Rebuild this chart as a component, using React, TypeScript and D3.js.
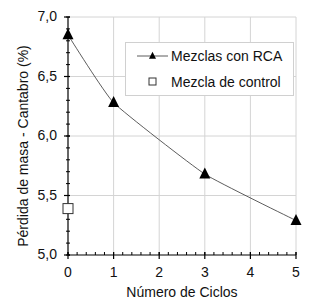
import React from "react";
import * as d3 from "d3";

const ciclos = [0, 1, 3, 5];
const perdidaRCA = [6.85, 6.28, 5.68, 5.29];
const controlX = [0];
const perdidaControl = [5.39];
const xTicks = [0, 1, 2, 3, 4, 5];
const yTicks = [5.0, 5.5, 6.0, 6.5, 7.0];
const legendLabels = ["Mezclas con RCA", "Mezcla de control"];

const W = 323, H = 305;
const L = 68, R = 296, T = 17, B = 255;
const FONT = "Liberation Sans, Arial, sans-serif";

export default function App() {
  const x = d3.scaleLinear().domain([0, 5]).range([L, R]);
  const y = d3.scaleLinear().domain([5, 7]).range([B, T]);
  const line = d3
    .line<number>()
    .x((_, i) => x(ciclos[i]))
    .y((d) => y(d))
    .curve(d3.curveCardinal.tension(0.6));
  const xMinor = d3.range(0, 5.001, 0.2).map((v) => +v.toFixed(2));
  const yMinor = d3.range(5, 7.001, 0.1).map((v) => +v.toFixed(2));
  const tri = (cx: number, cy: number, s: number) =>
    `M${cx},${cy - s * 0.6}L${cx + s / 2},${cy + s * 0.4}L${cx - s / 2},${cy + s * 0.4}Z`;
  const fmt = (v: number) => v.toFixed(1).replace(".", ",");
  return (
    <svg width={W} height={H} style={{ position: "absolute", left: 0, top: 0, background: "#fff" }} fontFamily={FONT}>
      <rect width={W} height={H} fill="#fff" />
      {xTicks.slice(1).map((t) => (
        <line key={"gx" + t} x1={x(t)} x2={x(t)} y1={T} y2={B} stroke="#d4d4d4" strokeWidth={1} />
      ))}
      {yTicks.slice(1).map((t) => (
        <line key={"gy" + t} x1={L} x2={R} y1={y(t)} y2={y(t)} stroke="#d4d4d4" strokeWidth={1} />
      ))}
      {/* axes */}
      <line x1={L} x2={L} y1={T} y2={B} stroke="#000" strokeWidth={1.2} />
      <line x1={L} x2={R} y1={B} y2={B} stroke="#000" strokeWidth={1.2} />
      {yMinor.map((t) => (
        <line key={"ym" + t} x1={L - 2} x2={L + 2} y1={y(t)} y2={y(t)} stroke="#000" strokeWidth={1} />
      ))}
      {yTicks.map((t) => (
        <line key={"yt" + t} x1={L - 4} x2={L + 2} y1={y(t)} y2={y(t)} stroke="#000" strokeWidth={1.2} />
      ))}
      {xMinor.map((t) => (
        <line key={"xm" + t} x1={x(t)} x2={x(t)} y1={B - 3} y2={B} stroke="#000" strokeWidth={1} />
      ))}
      {xTicks.map((t) => (
        <line key={"xt" + t} x1={x(t)} x2={x(t)} y1={B - 3} y2={B + 4} stroke="#000" strokeWidth={1.2} />
      ))}
      {yTicks.map((t) => (
        <text key={"yl" + t} x={L - 11} y={y(t) + 4} textAnchor="end" fontSize={14} fill="#111">
          {fmt(t)}
        </text>
      ))}
      {xTicks.map((t) => (
        <text key={"xl" + t} x={x(t)} y={B + 22} textAnchor="middle" fontSize={14} fill="#111">
          {t}
        </text>
      ))}
      <text x={(L + R) / 2} y={297} textAnchor="middle" fontSize={14} fill="#111">
        Número de Ciclos
      </text>
      <text transform={`translate(28,${(T + B) / 2 + 10}) rotate(-90)`} textAnchor="middle" fontSize={14} fill="#111">
        Pérdida de masa - Cantabro (%)
      </text>
      {/* data */}
      <path d={line(perdidaRCA) || ""} fill="none" stroke="#333" strokeWidth={0.8} />
      {perdidaRCA.map((v, i) => (
        <path key={"p" + i} d={tri(x(ciclos[i]), y(v), 11)} fill="#000" />
      ))}
      {perdidaControl.map((v, i) => (
        <rect key={"c" + i} x={x(controlX[i]) - 5} y={y(v) - 5} width={10} height={10} fill="#fff" stroke="#333" strokeWidth={1} />
      ))}
      {/* legend */}
      <rect x={125.5} y={42.5} width={168} height={53} fill="#fff" stroke="#d0d0d0" strokeWidth={1} />
      <line x1={137} x2={168} y1={56} y2={56} stroke="#333" strokeWidth={0.8} />
      <path d={tri(152.5, 56, 7)} fill="#000" />
      <text x={171} y={61} fontSize={14} fill="#111">{legendLabels[0]}</text>
      <rect x={149} y={78} width={7} height={7} fill="#fff" stroke="#333" strokeWidth={1} />
      <text x={171} y={87} fontSize={14} fill="#111">{legendLabels[1]}</text>
    </svg>
  );
}
